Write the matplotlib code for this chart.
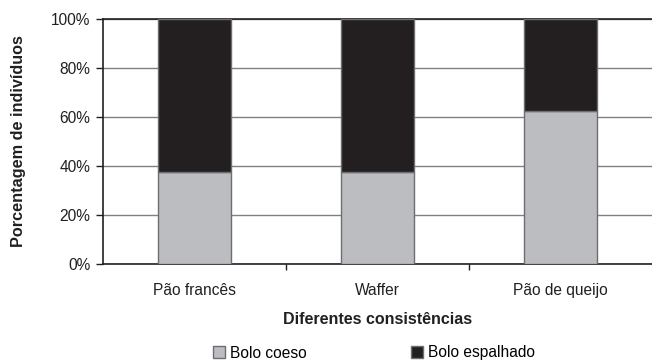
import matplotlib.pyplot as plt
import numpy as np

plt.rcParams['font.family'] = ['Liberation Sans', 'DejaVu Sans']

categorias = ["Pão francês", "Waffer", "Pão de queijo"]
bolo_coeso = [37.5, 37.5, 62.5]
bolo_espalhado = [62.5, 62.5, 37.5]
series_nomes = ["Bolo coeso", "Bolo espalhado"]
yticks = [0, 20, 40, 60, 80, 100]

cor_coeso = "#bcbdc0"
cor_espalhado = "#231f20"
cor_borda = "#6d6e71"

fig = plt.figure(figsize=(6.52, 3.61), dpi=100)
ax = fig.add_axes([103 / 652, 1 - 264 / 361, 1 - 103 / 652, 245 / 361])

x = np.arange(len(categorias))
b1 = ax.bar(x, bolo_coeso, width=0.4, color=cor_coeso, edgecolor=cor_borda,
            linewidth=1.0, zorder=3, label=series_nomes[0])
b2 = ax.bar(x, bolo_espalhado, bottom=bolo_coeso, width=0.4, color=cor_espalhado,
            edgecolor=cor_borda, linewidth=1.0, zorder=3, label=series_nomes[1])

ax.set_xlim(-0.5, len(categorias) - 0.5)
ax.set_ylim(0, 100)
ax.set_yticks(yticks)
ax.set_yticklabels([f"{v}%" for v in yticks], fontsize=11.2, color="#231f20")
ax.yaxis.grid(True, color="#808080", linewidth=1.0, zorder=0)

# category labels in the middle, tick marks on the boundaries
ax.set_xticks(x)
ax.set_xticklabels(categorias, fontsize=11.2, color="#231f20")
ax.tick_params(axis="x", length=0, pad=14)
ax.set_xticks(np.arange(0.5, len(categorias) - 0.5, 1), minor=True)
ax.tick_params(axis="x", which="minor", length=4, width=1, color="#231f20")
ax.tick_params(axis="y", length=5, width=1, color="#231f20", pad=4)

for side in ["left", "bottom", "top"]:
    ax.spines[side].set_color("#231f20")
    ax.spines[side].set_linewidth(1.2)
ax.spines["right"].set_visible(False)

ax.set_xlabel("Diferentes consistências", fontsize=11.5, fontweight="bold",
              color="#231f20", labelpad=10)
ax.set_ylabel("Porcentagem de indivíduos", fontsize=11.7, fontweight="bold",
              color="#231f20", labelpad=18)

fig.legend(handles=[b1, b2], labels=series_nomes, loc="center",
           bbox_to_anchor=(374 / 652, 1 - 353 / 361), ncol=2, frameon=False,
           fontsize=11.2, handlelength=0.75, handleheight=0.75,
           handletextpad=0.3, columnspacing=6.75, borderaxespad=0)

fig.savefig("out.png", dpi=100, facecolor="white")
